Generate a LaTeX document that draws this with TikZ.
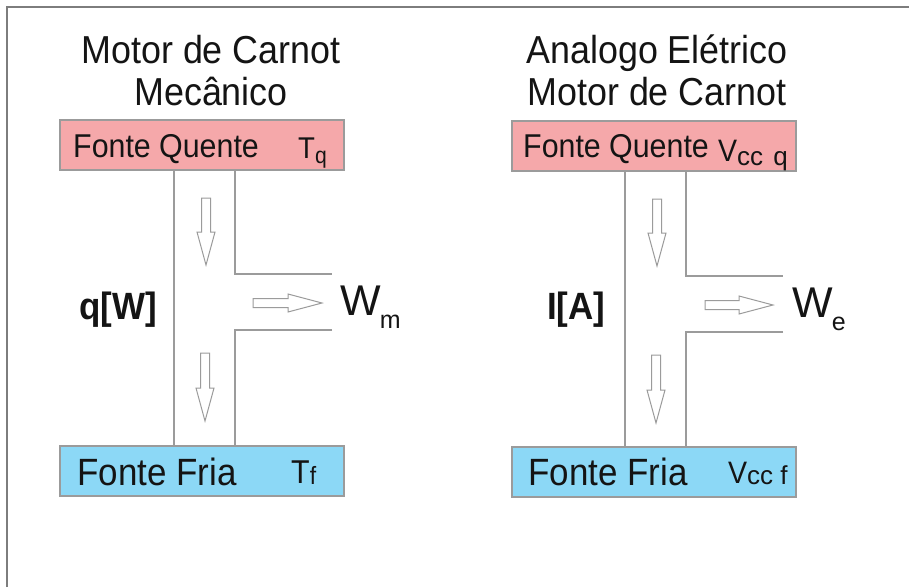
\documentclass[tikz,border=0pt]{standalone}
\usepackage{fontspec}
\setmainfont[FakeStretch=0.92]{Liberation Sans}
\newfontfamily\widefont{Liberation Sans}
\definecolor{hot}{RGB}{245,168,170}
\definecolor{cold}{RGB}{140,216,246}
\definecolor{wallgray}{RGB}{155,155,155}
\definecolor{framegray}{RGB}{125,125,125}
\newcommand{\fs}[1]{\fontsize{#1}{#1}\selectfont}
\newcommand{\darrow}[3]{% cx, ytop, ybottom
  \draw[blockarrow] (#1-4.5,#2) -- (#1+4.5,#2) -- (#1+4.5,#3-33) -- (#1+9,#3-33) -- (#1,#3) -- (#1-9,#3-33) -- (#1-4.5,#3-33) -- cycle;}
\newcommand{\rarrow}[3]{% xleft, xright, cy
  \draw[blockarrow] (#1,#3-4.5) -- (#2-34,#3-4.5) -- (#2-34,#3-9) -- (#2,#3) -- (#2-34,#3+9) -- (#2-34,#3+4.5) -- (#1,#3+4.5) -- cycle;}
\begin{document}
\begin{tikzpicture}[x=1pt,y=-1pt,
  frameline/.style={draw=framegray,line width=2pt},
  hotbox/.style={draw=wallgray,fill=hot,line width=1.3pt,minimum width=284pt,minimum height=50pt,inner sep=0pt},
  coldbox/.style={draw=wallgray,fill=cold,line width=1.3pt,minimum width=284pt,minimum height=50pt,inner sep=0pt},
  wall/.style={draw=wallgray,line width=1.3pt},
  blockarrow/.style={draw=wallgray,fill=white,line width=1pt,line join=miter},
  txt/.style={inner sep=0pt,anchor=base west,text=black!92},
  ttl/.style={inner sep=0pt,anchor=base,text=black!92}]
\useasboundingbox (0,0) rectangle (909,587);
\draw[frameline] (7,587) -- (7,7) -- (909,7);

% titles
\node[ttl] (t1a) at (211,63) {\fs{39}Motor de Carnot};
\node[ttl] (t1b) at (211,105) {\fs{39}Mecânico};
\node[ttl] (t2a) at (657,63) {\fs{39}Analogo Elétrico};
\node[ttl] (t2b) at (657,105) {\fs{39}Motor de Carnot};

% ---- left engine ----
\draw[wall] (174,170) -- (174,445);
\draw[wall] (235,170) -- (235,274) -- (332,274);
\draw[wall] (332,330) -- (235,330) -- (235,445);
\node[hotbox] (hotL) at (202,145) {};
\node[coldbox] (coldL) at (202,471) {};
\node[txt] (fqL) at (73,157) {\fs{33}Fonte Quente};
\node[txt] (tq) at (298,158) {\fs{30}T\raisebox{-5pt}{\fs{23}q}};
\node[txt] (ffL) at (77,485) {\fs{38}Fonte Fria};
\node[txt] (tf) at (291,483) {\fs{33}T\raisebox{-1pt}{\fs{25}f}};
\darrow{206}{198}{265}
\darrow{205}{353}{421}
\rarrow{253}{322}{303}
\node[txt] (qw) at (79,319) {\fs{38}\bfseries q[W]};
\node[txt] (wm) at (340,315) {\widefont\fs{43}W\kern-1pt\raisebox{-13pt}{\fs{25}m}};

% ---- right engine ----
\draw[wall] (625,172) -- (625,446);
\draw[wall] (686,172) -- (686,276) -- (783,276);
\draw[wall] (783,332) -- (686,332) -- (686,446);
\node[hotbox] (hotR) at (654,146) {};
\node[coldbox] (coldR) at (654,472) {};
\node[txt] (fqR) at (523,157) {\fs{33}Fonte Quente};
\node[txt] (vq) at (718,161) {\fs{31}V\raisebox{-4pt}{\widefont\fs{26}cc\hspace{3pt} q}};
\node[txt] (ffR) at (528,485) {\fs{38}Fonte Fria};
\node[txt] (vf) at (728,483) {\fs{31}V\raisebox{-1pt}{\widefont\fs{26}cc f}};
\darrow{657}{199}{266}
\darrow{656}{355}{423}
\rarrow{705}{773}{305}
\node[txt] (ia) at (547,319) {\fs{38}\bfseries I[A]};
\node[txt] (we) at (792,317) {\widefont\fs{43}W\kern-1pt\raisebox{-13pt}{\fs{25}e}};
\end{tikzpicture}
\end{document}
